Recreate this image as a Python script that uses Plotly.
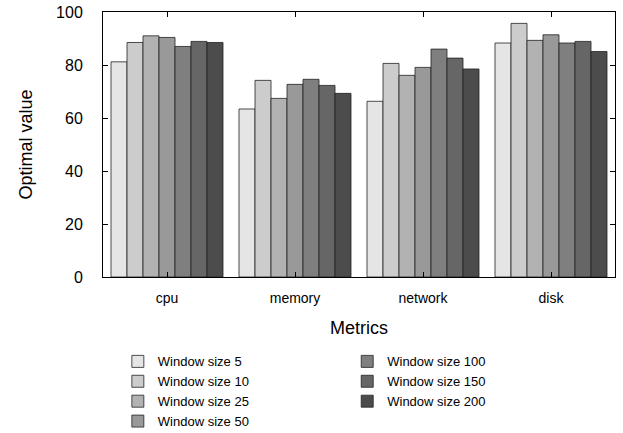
import plotly.graph_objects as go

categories = ["cpu", "memory", "network", "disk"]
series_names = ["Window size 5", "Window size 10", "Window size 25", "Window size 50",
                "Window size 100", "Window size 150", "Window size 200"]
ws5 = [81.2, 63.4, 66.3, 88.3]
ws10 = [88.5, 74.2, 80.6, 95.7]
ws25 = [91.0, 67.4, 76.1, 89.3]
ws50 = [90.4, 72.7, 79.1, 91.4]
ws100 = [87.0, 74.6, 86.0, 88.3]
ws150 = [88.9, 72.3, 82.6, 88.9]
ws200 = [88.5, 69.3, 78.5, 85.1]
values = [ws5, ws10, ws25, ws50, ws100, ws150, ws200]
colors = ["#e5e5e5", "#cccccc", "#b2b2b2", "#999999", "#7f7f7f", "#666666", "#4c4c4c"]
legend_ids = ["legend", "legend", "legend", "legend", "legend2", "legend2", "legend2"]

fig = go.Figure()
for name, vals, col, lg in zip(series_names, values, colors, legend_ids):
    fig.add_trace(go.Bar(
        x=categories, y=vals, name=name, legend=lg,
        marker=dict(color=col, line=dict(color="#222222", width=0.8)),
    ))

font = "Liberation Sans, Arial, sans-serif"
fig.update_layout(
    width=623, height=433,
    margin=dict(l=103, r=8, t=12, b=156, pad=0, autoexpand=False),
    paper_bgcolor="white", plot_bgcolor="white",
    barmode="group", bargap=0.125, bargroupgap=0,
    font=dict(family=font, size=14, color="black"),
    xaxis=dict(
        range=[-0.5, 3.5], showline=True, linecolor="black", linewidth=1,
        mirror="ticks", ticks="inside", ticklen=5, tickcolor="black",
        showgrid=False, zeroline=False, automargin=False,
        tickfont=dict(size=14), ticklabelstandoff=8,
        title=dict(text="Metrics", font=dict(size=18), standoff=16),
    ),
    yaxis=dict(
        range=[0, 100], dtick=20, showline=True, linecolor="black", linewidth=1,
        mirror="ticks", ticks="inside", ticklen=5, tickcolor="black",
        showgrid=False, zeroline=False, automargin=False,
        tickfont=dict(size=16), ticklabelstandoff=16,
        title=dict(text="Optimal value", font=dict(size=18), standoff=18),
    ),
    legend=dict(
        x=0.029, y=-0.262, xanchor="left", yanchor="top",
        font=dict(size=13), bgcolor="rgba(0,0,0,0)", tracegroupgap=0,
        itemwidth=30, borderwidth=0,
    ),
    legend2=dict(
        x=0.477, y=-0.262, xanchor="left", yanchor="top",
        font=dict(size=13), bgcolor="rgba(0,0,0,0)", tracegroupgap=0,
        itemwidth=30, borderwidth=0,
    ),
)

fig.write_html("out.html", config={"displayModeBar": False},
               post_script="document.body.style.margin='0';")
